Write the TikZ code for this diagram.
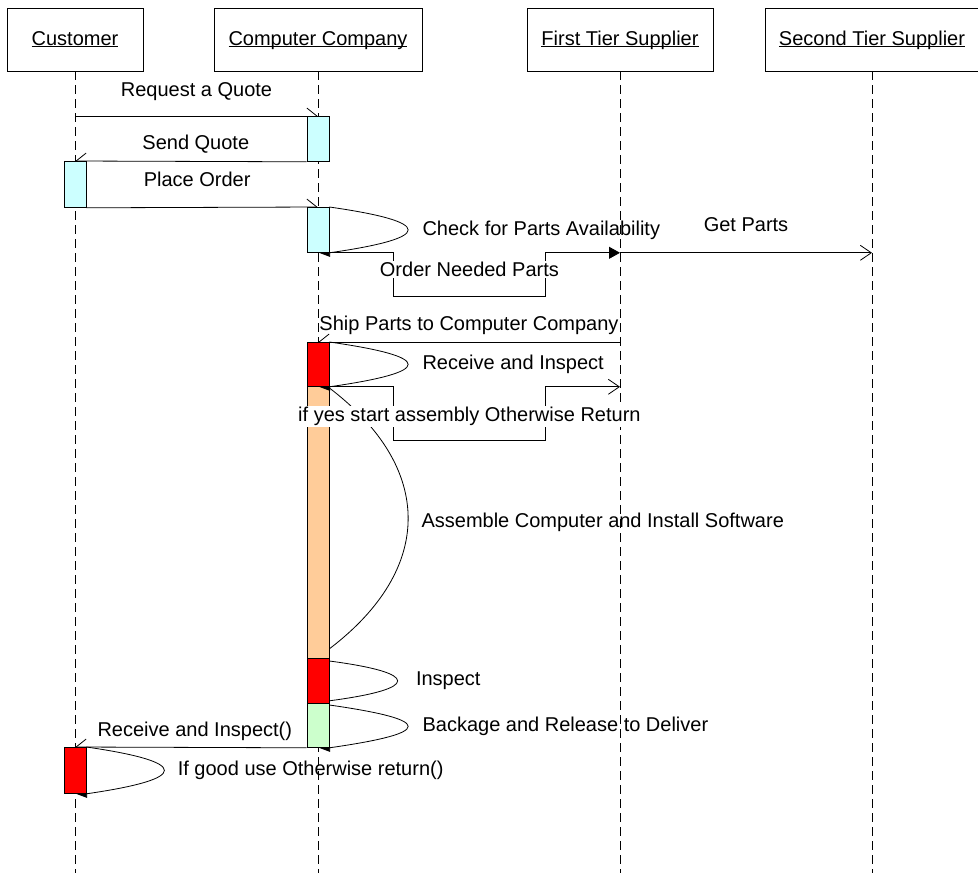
\documentclass[tikz,border=0pt]{standalone}
\usepackage{fontspec}
\setmainfont{Liberation Sans}
\usepackage{tikz}
\usetikzlibrary{arrows.meta}
\definecolor{quotecyan}{RGB}{204,255,255}
\definecolor{inspectred}{RGB}{255,0,0}
\definecolor{assemblyorange}{RGB}{255,204,153}
\definecolor{releasegreen}{RGB}{204,255,204}
\tikzstyle{actor}=[draw, line width=0.8pt, minimum height=63pt, text height=15pt, text depth=4pt, inner sep=0pt]
\tikzstyle{lifeline}=[line width=0.8pt, dash pattern=on 9pt off 5pt]
\tikzstyle{act}=[draw, line width=0.8pt, minimum width=22pt, inner sep=0pt, anchor=north]
\tikzstyle{msg}=[line width=0.8pt]
\tikzstyle{lbl}=[anchor=base, inner sep=1pt]
\tikzstyle{selflbl}=[inner sep=0pt, anchor=west]
\tikzstyle{callright}=[-{Straight Barb[left,length=10pt,width=16pt]}]
\tikzstyle{callleft}=[-{Straight Barb[right,length=10pt,width=16pt]}]
\tikzstyle{selfret}=[-{Triangle[left,length=11pt,width=8pt]}]
\tikzstyle{openhead}=[-{Straight Barb[length=11pt,width=15pt]}]
\tikzstyle{fullhead}=[-{Triangle[length=11pt,width=12pt]}]

\begin{document}
\begin{tikzpicture}[x=1pt,y=-1pt, every node/.style={font=\fontsize{20}{24}\selectfont}]
\useasboundingbox (0,0) rectangle (978,873);
\coordinate (bottom) at (0,873);
% objects and lifelines
\node[actor, minimum width=136pt] (cust) at (75,39.5) {\underbar{Customer}};
\node[actor, minimum width=208pt] (comp) at (318,39.5) {\underbar{Computer Company}};
\node[actor, minimum width=186pt] (fts) at (620,39.5) {\underbar{First Tier Supplier}};
\node[actor, minimum width=214pt] (sts) at (872,39.5) {\underbar{Second Tier Supplier}};
\foreach \o in {cust,comp,fts,sts}
  \draw[lifeline] (\o.south) -- (\o |- bottom);
% activations
\node[act, fill=quotecyan, minimum height=45pt] (a1) at (318,116) {};
\node[act, fill=quotecyan, minimum height=46pt] (a2) at (75,161) {};
\node[act, fill=quotecyan, minimum height=45pt] (a3) at (318,207) {};
\node[act, fill=inspectred, minimum height=44pt] (a4) at (318,342) {};
\node[act, fill=assemblyorange, minimum height=272pt] (a5) at (318,386) {};
\node[act, fill=inspectred, minimum height=45pt] (a6) at (318,658) {};
\node[act, fill=releasegreen, minimum height=44pt] (a7) at (318,703) {};
\node[act, fill=inspectred, minimum height=46pt] (a8) at (75,747) {};
% messages
\draw[msg, callright] (cust |- a1.north) -- node[lbl, yshift=20pt]{Request a Quote} (a1.north);
\draw[msg, callleft] (a1.south west) -- node[lbl, yshift=12pt, xshift=5pt]{Send Quote} (a2.north);
\draw[msg, callright] (a2.south east) -- node[lbl, yshift=20.5pt, xshift=-5pt]{Place Order} (a3.north);
\draw[msg, selfret] (a3.north east) .. controls +(105,15) and +(105,-15) .. (a3.south east)
  node[selflbl, pos=0.5, right=14pt]{Check for Parts Availability} -- (a3.south);
\draw[msg, fullhead] (a3.south east) -- ++(64,0) -- ++(0,44)
  -- node[lbl, fill=white, yshift=20pt]{Order Needed Parts} ++(152,0) -- ++(0,-44) -- (fts |- a3.south);
\draw[msg, openhead] (fts |- a3.south) -- node[lbl, yshift=21pt]{Get Parts} (sts |- a3.south);
\draw[msg, callleft] (fts |- a4.north) -- node[lbl, yshift=12pt]{Ship Parts to Computer Company} (a4.north);
\draw[msg, selfret] (a4.north east) .. controls +(105,15) and +(105,-15) .. (a4.south east)
  node[selflbl, pos=0.5, right=14pt]{Receive and Inspect} -- (a4.south);
\draw[msg] ([yshift=-2pt]a5.north east) .. controls +(105,80) and +(105,-80) .. ([yshift=10pt]a5.south east)
  node[selflbl, pos=0.5, right=13pt, yshift=-4pt]{Assemble Computer and Install Software};
\draw[msg, openhead] (a4.south east) -- ++(64,0) -- ++(0,54)
  -- node[lbl, fill=white, yshift=19.3pt]{if yes start assembly Otherwise Return} ++(152,0) -- ++(0,-54) -- (fts |- a4.south);
\draw[msg] ([yshift=-3pt]a6.north east) .. controls +(91,12) and +(91,-12) .. ([yshift=3pt]a6.south east)
  node[selflbl, pos=0.5, right=18pt]{Inspect};
\draw[msg, selfret] ([yshift=-2pt]a7.north east) .. controls +(105,15) and +(105,-15) .. (a7.south east)
  node[selflbl, pos=0.5, right=14pt]{Backage and Release to Deliver} -- (a7.south);
\draw[msg, callleft] (a7.south west) -- node[lbl, yshift=10.5pt, xshift=4pt]{Receive and Inspect()} (a8.north);
\draw[msg, selfret] (a8.north east) .. controls +(104,15) and +(104,-15) .. (a8.south east)
  node[selflbl, pos=0.5, right=13pt]{If good use Otherwise return()} -- (a8.south);
\end{tikzpicture}
\end{document}
